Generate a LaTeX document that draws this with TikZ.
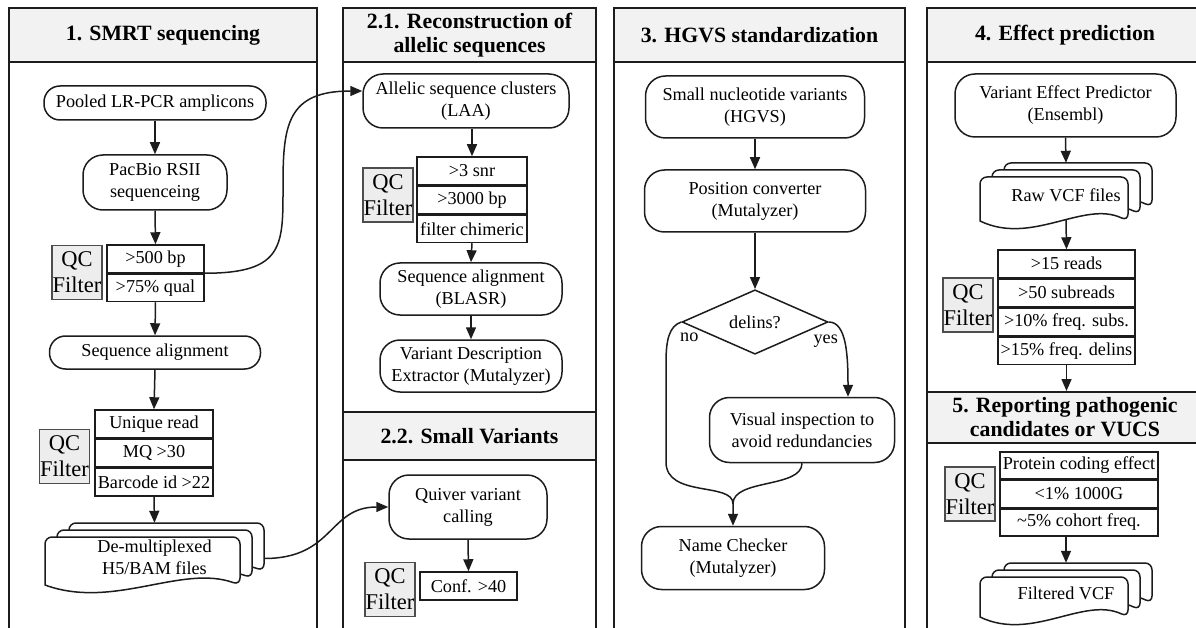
\documentclass[tikz,border=0pt]{standalone}
\usepackage{fontspec}
\setmainfont{Liberation Serif}
\usepackage{xcolor}
\usepackage{tikz}
\usetikzlibrary{positioning,shapes.geometric,arrows.meta}
\definecolor{inkgray}{HTML}{1C1C1C}
\definecolor{headgray}{HTML}{F2F2F2}
\definecolor{qcgray}{HTML}{EDEDED}
\definecolor{qcline}{HTML}{4D4D4D}

\newcommand{\boxfont}{\fontsize{18.2}{22}\selectfont}

\tikzset{
  panel/.style={draw=inkgray, line width=2pt},
  header/.style={draw=inkgray, line width=2pt, fill=headgray, align=center, inner sep=0pt, font=\fontsize{21.8}{24}\selectfont\bfseries},
  procbox/.style={draw=inkgray, line width=1.5pt, rounded corners=20pt, align=center, inner sep=0pt, font=\boxfont},
  pillbox/.style={procbox, rounded corners=16pt},
  cell/.style={draw=inkgray, line width=1.5pt, inner sep=0pt, minimum height=27.5pt, font=\boxfont},
  qcbox/.style={draw=qcline, line width=1.5pt, fill=qcgray, align=center, inner sep=0pt, minimum width=50pt, minimum height=54pt, font=\fontsize{22.5}{26}\selectfont},
  decision/.style={diamond, draw=inkgray, line width=1.5pt, inner sep=0pt, minimum width=146pt, minimum height=60pt, font=\boxfont},
  flow/.style={draw=inkgray, line width=1.5pt, -{Triangle[length=12pt,width=10pt]}},
  mergeline/.style={draw=inkgray, line width=1.5pt},
  docline/.style={draw=inkgray, line width=1.5pt, fill=white},
  tag/.style={inner sep=0pt, font=\boxfont}
}

\newcommand{\docsheet}[4]{%
  \filldraw[docline, rounded corners=7pt] ({#1},{(#4)-9}) -- ({#1},{#2}) -- ({#3},{#2}) -- ({#3},{(#4)-9}) [sharp corners]
    .. controls ({(#3)-0.3*((#3)-(#1))},{(#4)-30}) and ({(#1)+0.35*((#3)-(#1))},{(#4)+16}) .. ({#1},{(#4)-9}) -- cycle;}
\newcommand{\docstack}[6]{%
  \docsheet{(#2)+24}{(#3)-14}{(#4)+24}{(#5)-14}
  \docsheet{(#2)+12}{(#3)-7}{(#4)+12}{(#5)-7}
  \docsheet{#2}{#3}{#4}{#5}
  \node[inner sep=0pt, minimum width={(#4)+24-(#2)}, minimum height={(#5)-(#3)+14}] (#1) at ({((#2)+(#4)+24)/2},{((#3)+(#5)-14)/2}) {};
  \node[tag, align=center] (#1-text) at ({((#2)+(#4)+24)/2},{((#3)+(#5))/2-8}) {#6};}

\begin{document}
\begin{tikzpicture}[x=1pt, y=-1pt]
\useasboundingbox (0,0) rectangle (1196,628);
\clip (0,0) rectangle (1196,628);

\draw[panel] (9,8) rectangle (317,660);
\draw[panel] (343,8) rectangle (596,660);
\draw[panel] (614,8) rectangle (905,660);
\draw[panel] (927,8) rectangle (1203,660);

\node[header, minimum width=308pt, minimum height=54pt] (head1) at (163,35) {1. SMRT sequencing};
\node[header, minimum width=253pt, minimum height=54pt] (head21) at (469.5,35) {2.1. Reconstruction of\\allelic sequences};
\node[header, minimum width=253pt, minimum height=48pt] (head22) at (469.5,436) {2.2. Small Variants};
\node[header, minimum width=291pt, minimum height=54pt] (head3) at (759.5,35) {3. HGVS standardization};
\node[header, minimum width=276pt, minimum height=54pt] (head4) at (1065,35) {4. Effect prediction};
\node[header, minimum width=276pt, minimum height=51pt] (head5) at (1065,417.5) {5. Reporting pathogenic\\candidates or VUCS};

\node[pillbox, minimum width=222pt, minimum height=34pt] (pooled) at (155,103) {Pooled LR-PCR amplicons};
\node[procbox, minimum width=144pt, minimum height=55pt] (pacbio) at (155,182.5) {PacBio RSII\\sequenceing};
\node[cell, minimum width=97pt] (smrtqa) at (155.5,258.75) {>500 bp};
\node[cell, minimum width=97pt, below=0pt of smrtqa] (smrtqb) {>75\% qual};
\node[qcbox] (smrtqc) at (77,272.5) {QC\\Filter};
\node[pillbox, minimum width=211pt, minimum height=33pt] (seqalign) at (155,352.5) {Sequence alignment};
\node[cell, minimum width=118pt, minimum height=27.7pt] (readqa) at (154,423.85) {Unique read};
\node[cell, minimum width=118pt, minimum height=27.7pt, below=0pt of readqa] (readqb) {MQ >30};
\node[cell, minimum width=118pt, minimum height=27.7pt, below=0pt of readqb] (readqc) {Barcode id >22};
\node[qcbox] (readqcl) at (64.5,456.5) {QC\\Filter};
\docstack{demux}{45}{537}{240}{594}{De-multiplexed\\H5/BAM files}

\node[procbox, minimum width=206pt, minimum height=54pt] (allelic) at (466,101) {Allelic sequence clusters\\(LAA)};
\node[cell, minimum width=110pt] (laaqa) at (472,170.75) {>3 snr};
\node[cell, minimum width=110pt, below=0pt of laaqa] (laaqb) {>3000 bp};
\node[cell, minimum width=110pt, below=0pt of laaqb] (laaqc) {filter chimeric};
\node[qcbox] (laaqcl) at (388,195) {QC\\Filter};
\node[procbox, minimum width=182pt, minimum height=52pt] (blasr) at (471,289) {Sequence alignment\\(BLASR)};
\node[procbox, minimum width=182pt, minimum height=52pt] (vde) at (471,366) {Variant Description\\Extractor (Mutalyzer)};
\node[procbox, minimum width=158pt, minimum height=64pt] (quiver) at (468,507) {Quiver variant\\calling};
\node[cell, minimum width=97pt, minimum height=28pt] (conf) at (468.5,586) {Conf. >40};
\node[qcbox] (confqcl) at (390,589.5) {QC\\Filter};

\node[procbox, minimum width=219pt, minimum height=62pt] (snv) at (755,107) {Small nucleotide variants\\(HGVS)};
\node[procbox, minimum width=221pt, minimum height=62pt] (posconv) at (755,201) {Position converter\\(Mutalyzer)};
\node[decision] (delins) at (755,322) {delins?};
\node[procbox, minimum width=185pt, minimum height=65pt] (visual) at (802,430) {Visual inspection to\\avoid redundancies};
\node[procbox, minimum width=183pt, minimum height=63pt] (namechk) at (733,558) {Name Checker\\(Mutalyzer)};
\node[tag] (lblno) at ([xshift=8pt,yshift=-15pt]delins.west) {no};
\node[tag] (lblyes) at ([xshift=-3pt,yshift=-19pt]delins.east) {yes};
\coordinate (merge) at ([yshift=22pt]namechk.north);

\node[procbox, minimum width=221pt, minimum height=63pt] (vep) at (1065.5,105.5) {Variant Effect Predictor\\(Ensembl)};
\docstack{rawvcf}{980}{177}{1128}{230}{Raw VCF files}
\node[cell, minimum width=137pt] (vcfqa) at (1066.5,263.75) {>15 reads};
\node[cell, minimum width=137pt, below=0pt of vcfqa] (vcfqb) {>50 subreads};
\node[cell, minimum width=137pt, below=0pt of vcfqb] (vcfqc) {>10\% freq. subs.};
\node[cell, minimum width=137pt, below=0pt of vcfqc] (vcfqd) {>15\% freq. delins};
\node[qcbox] (vcfqcl) at (968,305) {QC\\Filter};
\node[cell, minimum width=158pt, minimum height=27pt] (repqa) at (1079,465.5) {Protein coding effect};
\node[cell, minimum width=158pt, minimum height=27pt, below=0pt of repqa] (repqb) {<1\% 1000G};
\node[cell, minimum width=158pt, minimum height=27pt, below=0pt of repqb] (repqc) {\textasciitilde5\% cohort freq.};
\node[qcbox] (repqcl) at (970,494) {QC\\Filter};
\docstack{filtvcf}{980}{577}{1128}{626}{Filtered VCF}

\draw[flow] (pooled.south) -- (pacbio.north);
\draw[flow] (pacbio.south) -- (smrtqa.north);
\draw[flow] (smrtqb.south) -- (seqalign.north);
\draw[flow] (seqalign.south) -- (readqa.north);
\draw[flow] (readqc.south) -- (demux.north);
\draw[flow] (smrtqa.south east) .. controls +(80,0) and +(0,60) .. (283,185) .. controls +(0,-60) and +(-75,0) .. ([yshift=10pt]allelic.west);
\draw[flow] (demux.east) .. controls +(70,0) and +(-60,0) .. (quiver.west);

\draw[flow] (allelic.south -| laaqa.north) -- (laaqa.north);
\draw[flow] (laaqc.south) -- (blasr.north);
\draw[flow] (blasr.south) -- (vde.north);
\draw[flow] (quiver.south) -- (conf.north);

\draw[flow] (snv.south) -- (posconv.north);
\draw[flow] (posconv.south) -- (delins.north);
\draw[flow] (delins.east) .. controls +(18,0) and +(0,-40) .. ([xshift=46pt]visual.north);
\draw[flow] (delins.west) .. controls +(-12,4) and +(0,-22) .. (666,362) -- (666,462) .. controls +(0,36) and +(0,-22) .. (merge) -- (namechk.north);
\draw[mergeline] (visual.south) .. controls +(0,25) and +(0,-25) .. (merge);

\draw[flow] (vep.south) -- (rawvcf.north);
\draw[flow] ([yshift=10pt]rawvcf.south) -- (vcfqa.north);
\draw[flow] (vcfqd.south) -- (vcfqd.south |- head5.north);
\draw[flow] (repqc.south -| filtvcf.north) -- (filtvcf.north);
\end{tikzpicture}
\end{document}
